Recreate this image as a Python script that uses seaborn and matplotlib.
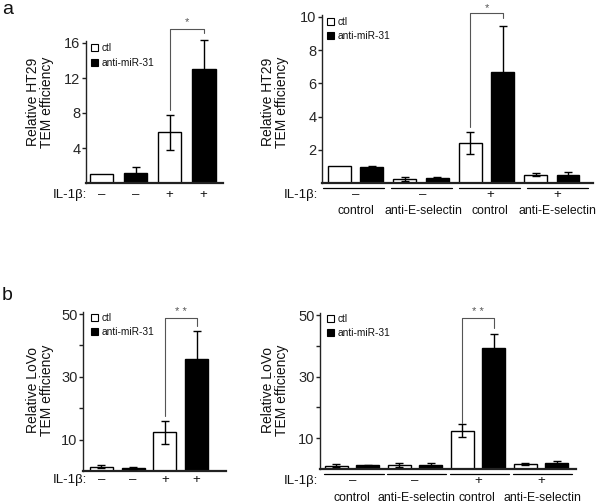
import numpy as np
import pandas as pd
import matplotlib
matplotlib.use("Agg")
import matplotlib.pyplot as plt
import seaborn as sns
from matplotlib.transforms import blended_transform_factory
from matplotlib.patches import Patch

# ---------------- data ----------------
treatments = ["ctl", "anti-miR-31"]
treat_left = ["ctl", "anti-miR-31", "ctl", "anti-miR-31"]
il1b_left = ["–", "–", "+", "+"]

ht29_vals = [1.0, 1.15, 5.8, 13.0]
ht29_err = [0.0, 0.7, 2.0, 3.3]
lovo_vals = [1.4, 0.9, 12.3, 35.7]
lovo_err = [0.45, 0.3, 3.6, 8.8]

groups = ["control", "anti-E-selectin", "control", "anti-E-selectin"]
il1b_groups = ["–", "–", "+", "+"]
ht29_sel_ctl = [1.0, 0.25, 2.4, 0.5]
ht29_sel_ctl_err = [0.0, 0.1, 0.65, 0.08]
ht29_sel_anti = [0.95, 0.3, 6.7, 0.48]
ht29_sel_anti_err = [0.1, 0.08, 2.75, 0.2]
lovo_sel_ctl = [1.1, 1.2, 12.5, 1.6]
lovo_sel_ctl_err = [0.5, 0.7, 2.2, 0.35]
lovo_sel_anti = [1.2, 1.4, 39.3, 1.85]
lovo_sel_anti_err = [0.2, 0.55, 4.6, 0.75]

ht29_ticks = [4, 8, 12, 16]
ht29_sel_ticks = [2, 4, 6, 8, 10]
lovo_ticks = [10, 30, 50]
lovo_minor = [20, 40]

ylab_ht29 = "Relative HT29\nTEM efficiency"
ylab_lovo = "Relative LoVo\nTEM efficiency"

# ---------------- style ----------------
sns.set_style("ticks")
plt.rcParams["font.family"] = ["Liberation Sans", "DejaVu Sans"]
plt.rcParams["text.color"] = "#111111"
pal = {"ctl": "white", "anti-miR-31": "black"}

W, H = 600, 504
fig = plt.figure(figsize=(6, 5.04), dpi=100)
fig.patch.set_facecolor("white")
ftrans = fig.transFigure


def fy(py):
    return 1 - py / H


def add_ax(l, r, y0, y1):
    return fig.add_axes([l / W, 1 - y0 / H, (r - l) / W, (y0 - y1) / H])


def style(ax, ticks, ylim, xlim, minor=None):
    sns.despine(ax=ax)
    ax.set_ylim(*ylim)
    ax.set_xlim(*xlim)
    ax.spines["left"].set_linewidth(1.0)
    ax.spines["bottom"].set_linewidth(1.6)
    ax.spines["left"].set_color("#222222")
    ax.spines["bottom"].set_color("#222222")
    ax.set_yticks(ticks)
    ax.set_yticklabels([str(t) for t in ticks])
    if minor:
        ax.set_yticks(minor, minor=True)
    ax.tick_params(axis="y", which="both", direction="out", length=3, width=1,
                   labelsize=10.5, pad=1, color="#222222")
    ax.tick_params(axis="x", bottom=False, labelbottom=False)
    ax.set_xlabel("")
    ax.set_ylabel("")
    ax.set_facecolor("none")


def legend(ax, x_px, y_px):
    handles = [Patch(facecolor=pal[t], edgecolor="black", linewidth=0.8) for t in treatments]
    ax.legend(handles, treatments, loc="center left",
              bbox_to_anchor=(x_px / W, fy(y_px)), bbox_transform=ftrans,
              frameon=False, fontsize=7.3, handlelength=0.68, handleheight=0.68,
              handletextpad=0.35, labelspacing=0.45, borderpad=0, borderaxespad=0)


def errbars(ax, xs, vals, errs):
    xs = np.asarray(xs, float)
    vals = np.asarray(vals, float)
    errs = np.asarray(errs, float)
    m = errs > 0
    ax.errorbar(xs[m], vals[m], yerr=errs[m], fmt="none", ecolor="black",
                elinewidth=1.0, capsize=3, capthick=1.0, zorder=5, clip_on=False)


def bracket(ax, x0, x1, y_start, y_top, y_end, text, ty):
    ax.plot([x0, x0, x1, x1], [y_start, y_top, y_top, y_end], color="#555555",
            lw=0.8, clip_on=False, zorder=6)
    ax.text((x0 + x1) / 2, ty, text, ha="center", va="center", fontsize=8,
            color="#555555")


def left_panel(ax, vals, errs, width):
    df = pd.DataFrame({"cond": [f"c{i}" for i in range(len(vals))],
                       "treat": treat_left, "val": vals})
    sns.barplot(data=df, x="cond", y="val", hue="treat", hue_order=treatments,
                palette=pal, dodge=False, width=width, edgecolor="black",
                linewidth=1.0, legend=False, errorbar=None, ax=ax)
    errbars(ax, np.arange(len(vals)), vals, errs)


def right_panel(ax, ctl, ctl_err, anti, anti_err, width, gap):
    ids = [f"g{i}" for i in range(len(groups))]
    df = pd.DataFrame({"group": ids * 2,
                       "treat": ["ctl"] * len(ids) + ["anti-miR-31"] * len(ids),
                       "val": list(ctl) + list(anti)})
    sns.barplot(data=df, x="group", y="val", hue="treat", hue_order=treatments,
                palette=pal, dodge=True, width=width, gap=gap, edgecolor="black",
                linewidth=1.0, legend=False, errorbar=None, ax=ax)
    centers = []
    for cont, v, e in zip(ax.containers, [ctl, anti], [ctl_err, anti_err]):
        xs = [b.get_x() + b.get_width() / 2 for b in cont]
        centers.append(xs)
        errbars(ax, xs, v, e)
    return centers


def il1b_row(ax, xs, signs, lab_right_px, y_px):
    tr = blended_transform_factory(ax.transData, ftrans)
    fig.text(lab_right_px / W, fy(y_px), "IL-1β:", ha="right", va="center", fontsize=9.5)
    for x, s in zip(xs, signs):
        ax.text(x, fy(y_px), s, transform=tr, ha="center", va="center", fontsize=9.5)


def group_rows(ax, line_y, label_y, starts, ends, label_x):
    tr = blended_transform_factory(ax.transData, ftrans)
    for i, g in enumerate(groups):
        ax.plot([starts[i], ends[i]], [fy(line_y), fy(line_y)], transform=tr,
                color="black", lw=0.9, clip_on=False)
        ax.text(label_x[i], fy(label_y), g, transform=tr, ha="center", va="center",
                fontsize=8.8)


# ---------------- panel a, left ----------------
ax1 = add_ax(86, 223, 183, 183 - 16.2 * 8.75)
left_panel(ax1, ht29_vals, ht29_err, 0.7)
style(ax1, ht29_ticks, (0, 16.2), (-0.456, 3.57))
legend(ax1, 91, 55.5)
bracket(ax1, 2, 3, 8.3, 17.6, 17.1, "*", 18.4)
il1b_row(ax1, np.arange(4), il1b_left, 87, 195)
fig.text(40 / W, fy(102), ylab_ht29, rotation=90, ha="center", va="center",
         fontsize=10, linespacing=1.0)

# ---------------- panel a, right ----------------
ax2 = add_ax(322, 593, 183, 183 - 10.1 * 16.6)
c2 = right_panel(ax2, ht29_sel_ctl, ht29_sel_ctl_err, ht29_sel_anti,
                 ht29_sel_anti_err, 0.99, 0.29)
style(ax2, ht29_sel_ticks, (0, 10.1), (-0.517, 3.63))
legend(ax2, 327.5, 29)
bracket(ax2, c2[0][2], c2[1][2], 3.37, 10.24, 9.94, "*", 10.55)
il1b_row(ax2, [i * 1.03 for i in range(4)], il1b_groups, 318, 195)
group_rows(ax2, 188, 211, [i - 0.5 + 0.04 * i for i in range(4)],
           [i + 0.43 + 0.04 * i for i in range(4)], [i * 1.03 for i in range(4)])
fig.text(275 / W, fy(102), ylab_ht29, rotation=90, ha="center", va="center",
         fontsize=10, linespacing=1.0)

# ---------------- panel b, left ----------------
ax3 = add_ax(83, 226, 471, 471 - 50.5 * 3.14)
left_panel(ax3, lovo_vals, lovo_err, 0.73)
style(ax3, lovo_ticks, (0, 50.5), (-0.58, 3.93), minor=lovo_minor)
legend(ax3, 91, 325)
bracket(ax3, 2, 3, 17.5, 48.7, 46.2, "* *", 50.6)
il1b_row(ax3, np.arange(4), il1b_left, 87, 480)
fig.text(40 / W, fy(390), ylab_lovo, rotation=90, ha="center", va="center",
         fontsize=10, linespacing=1.0)

# ---------------- panel b, right ----------------
ax4 = add_ax(320, 576, 469, 469 - 50.5 * 3.08)
c4 = right_panel(ax4, lovo_sel_ctl, lovo_sel_ctl_err, lovo_sel_anti,
                 lovo_sel_anti_err, 1.0, 0.27)
style(ax4, lovo_ticks, (0, 50.5), (-0.512, 3.56), minor=lovo_minor)
legend(ax4, 327, 326)
bracket(ax4, c4[0][2], c4[1][2], 14.9, 49.0, 45.8, "* *", 51.0)
il1b_row(ax4, [i * 1.0 for i in range(4)], il1b_groups, 318, 481)
group_rows(ax4, 474, 498, [i - 0.45 for i in range(4)], [i + 0.5 for i in range(4)],
           [0.0, 1.02, 1.98, 3.03])
fig.text(275 / W, fy(390), ylab_lovo, rotation=90, ha="center", va="center",
         fontsize=10, linespacing=1.0)

# panel letters
fig.text(2 / W, fy(10), "a", ha="left", va="center", fontsize=14)
fig.text(2 / W, fy(296), "b", ha="left", va="center", fontsize=14)

fig.savefig("out.png", dpi=100, facecolor="white")
